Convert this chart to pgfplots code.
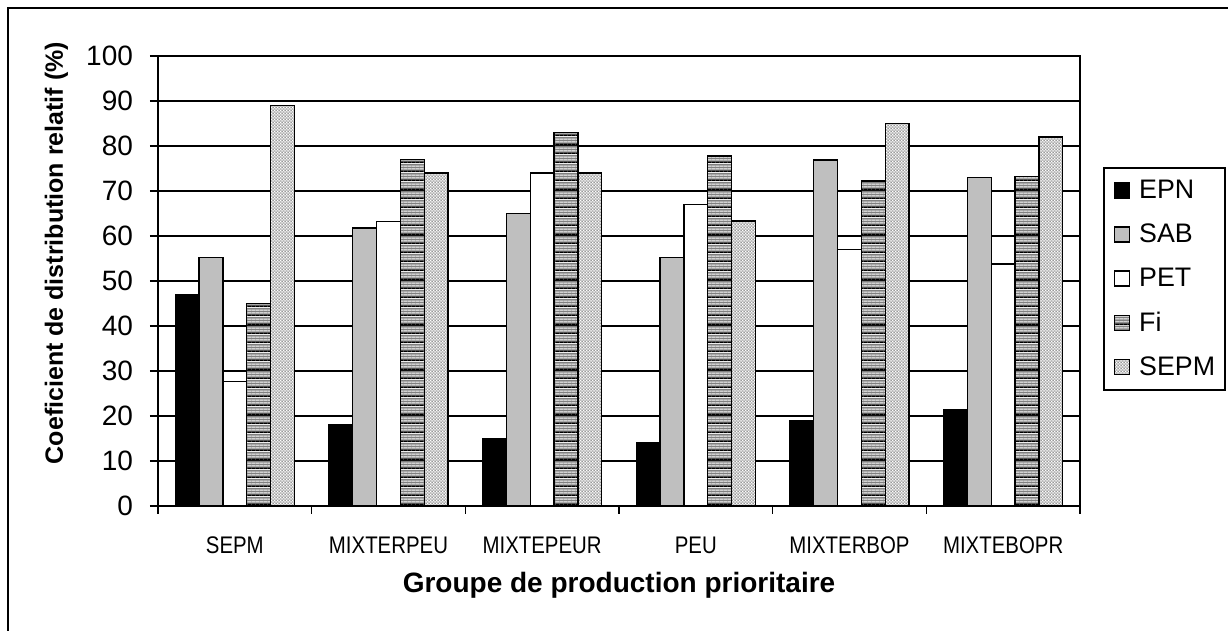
\documentclass[border=0pt]{standalone}
\usepackage{fontspec}
\setmainfont{Liberation Sans}
\usepackage{pgfplots}
\pgfplotsset{compat=1.18}
\usetikzlibrary{patterns,patterns.meta}
\usepackage{graphicx}

\tikzdeclarepattern{
  name=fistripe,
  type=colored,
  bottom left={(0pt,0pt)},
  top right={(2pt,4.5pt)},
  tile size={(2pt,4.5pt)},
  code={
    \fill[black!50] (0pt,0pt) rectangle (2pt,4.5pt);
    \fill[black] (0pt,0pt) rectangle (2pt,0.7pt);
    \fill[white] (0pt,1.5pt) rectangle (2pt,2.0pt);
    \fill[white] (0pt,3.0pt) rectangle (2pt,3.5pt);
  }
}
\tikzdeclarepattern{
  name=sepmdots,
  type=colored,
  bottom left={(0pt,0pt)},
  top right={(1.6pt,1.6pt)},
  tile size={(1.6pt,1.6pt)},
  code={
    \fill[black!40] (0pt,0pt) rectangle (1.6pt,1.6pt);
    \fill[white] (0pt,0pt) rectangle (0.8pt,0.8pt);
    \fill[white] (0.8pt,0.8pt) rectangle (1.6pt,1.6pt);
  }
}
\newcommand{\cat}[1]{\scalebox{0.85}[1]{#1}}

\begin{document}
\begin{tikzpicture}
\useasboundingbox (-79pt,-62.5pt) rectangle (535pt,253pt);
\draw[line width=1pt] (-75pt,-62.5pt) -- (-75pt,249pt) -- (535pt,249pt);
\begin{axis}[
  ybar,
  at={(0pt,0pt)}, anchor=south west,
  scale only axis, width=461pt, height=225pt,
  xmin=-0.5, xmax=5.5, ymin=0, ymax=100,
  ytick={0,10,...,100},
  xtick={-0.5,0.5,...,5.5}, xticklabels={},
  extra x ticks={0,1,2,3,4,5},
  extra x tick labels={\cat{SEPM},\cat{MIXTERPEU},\cat{MIXTEPEUR},\cat{PEU},\cat{MIXTERBOP},\cat{MIXTEBOPR}},
  extra x tick style={major tick length=0pt, grid=none,
     xticklabel style={font=\fontsize{12}{14}\selectfont, yshift=-12pt}},
  tick align=outside, major tick length=4pt,
  tick pos=left,
  ymajorgrids, major grid style={black, line width=0.6pt},
  axis line style={black, line width=0.8pt},
  tick style={black, line width=0.8pt},
  /pgf/number format/assume math mode=true,
  yticklabel style={font=\fontsize{14}{16}\selectfont, xshift=-5pt},
  ylabel={\bfseries Coeficient de distribution relatif (\%)},
  ylabel style={font=\fontsize{12.5}{14}\selectfont, at={(axis description cs:-0.09,0.562)}, anchor=south},
  xlabel={\bfseries Groupe de production prioritaire},
  xlabel style={font=\fontsize{14}{16}\selectfont, yshift=2pt},
  bar width=0.155,
  sqleg/.style={legend image code/.code={\draw[##1, line width=0.6pt] (0pt,-3.75pt) rectangle (7.5pt,3.75pt); \path (-2pt,0pt) (10pt,0pt);}},
  legend style={at={(axis description cs:1,1)}, anchor=north west, xshift=11.5pt, yshift=-55.5pt,
     draw=black, line width=0.8pt, font=\fontsize{13.4}{15}\selectfont, row sep=7.2pt,
     inner ysep=4pt, inner xsep=3pt,
     legend cell align=left},
]
\addplot[sqleg, bar shift=-0.31, fill=black, draw=black, line width=0.7pt]
  coordinates {(0,47) (1,18) (2,15) (3,14) (4,19) (5,21.3)};
\addplot[sqleg, bar shift=-0.155, fill=black!25, draw=black, line width=0.7pt]
  coordinates {(0,55.2) (1,61.8) (2,65) (3,55.2) (4,76.9) (5,73)};
\addplot[sqleg, bar shift=0, fill=white, draw=black, line width=0.7pt]
  coordinates {(0,27.7) (1,63.2) (2,74) (3,67) (4,57) (5,53.8)};
\addplot[sqleg, bar shift=0.155, pattern=fistripe, draw=black, line width=0.7pt]
  coordinates {(0,45) (1,77) (2,83) (3,77.8) (4,72.2) (5,73.2)};
\addplot[sqleg, bar shift=0.31, pattern=sepmdots, draw=black, line width=0.7pt]
  coordinates {(0,89) (1,74) (2,74) (3,63.3) (4,85) (5,82)};
\legend{EPN,SAB,PET,Fi,SEPM}
\end{axis}
\end{tikzpicture}
\end{document}
